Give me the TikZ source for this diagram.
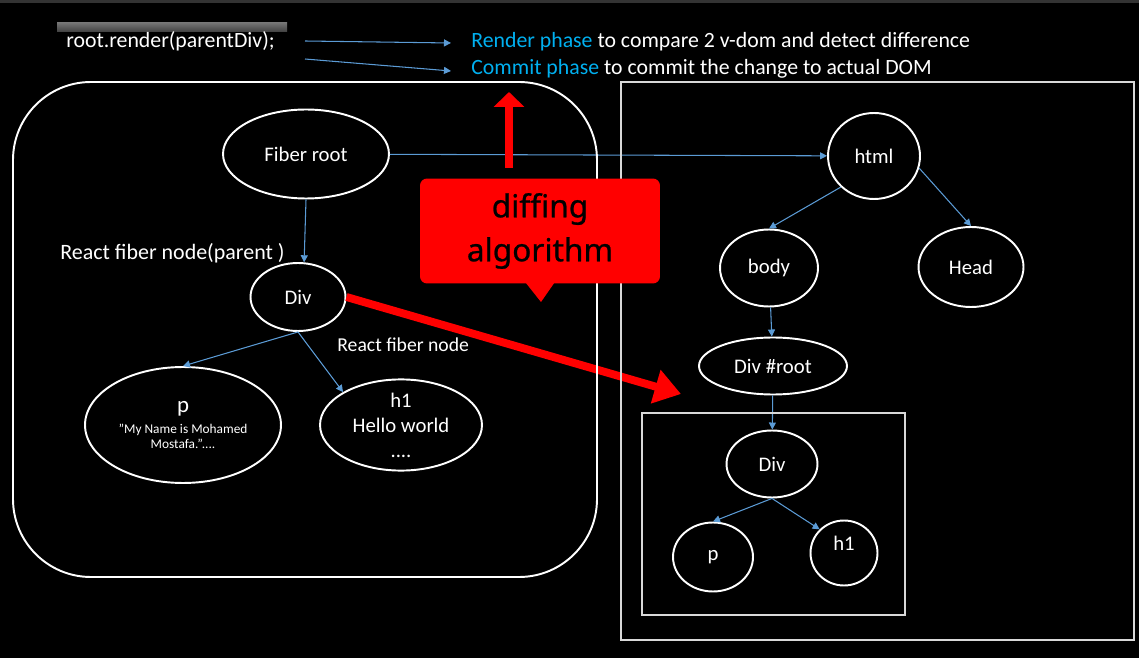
\documentclass[tikz,border=0pt]{standalone}
\usepackage{fontspec}
\setmainfont{Carlito}
\newfontfamily\calloutfont[FakeBold=0.7]{Noto Sans}
\usetikzlibrary{arrows.meta, shapes.geometric, calc}
\definecolor{linkblue}{RGB}{91,155,213}
\definecolor{phaseblue}{RGB}{0,176,240}
\definecolor{boxgray}{RGB}{217,217,217}

\tikzset{
  tnode/.style={ellipse, draw=white, line width=1.1pt, text=white, inner sep=0pt, align=center, font=\fontsize{11.8}{14.2}\selectfont},
  link/.style={linkblue, line width=0.6pt, -{Triangle[length=4pt,width=4pt]}},
  bigred/.style={red, line width=4.5pt, -{Triangle[length=15pt,width=19pt]}},
  lbl/.style={text=white, inner sep=0pt, font=\fontsize{11.8}{14.2}\selectfont},
}

\begin{document}
\begin{tikzpicture}[x=0.02cm, y=-0.02cm]
    \useasboundingbox (0,0) rectangle (1139,658);
    \fill[black] (0,0) rectangle (1139,658);
    \fill[black!80] (0,0) rectangle (1139,3);
    \shade[top color=black!55, bottom color=black!75] (57,23) rectangle (287,32);

    % header
    \node[lbl, anchor=base west, font=\fontsize{12.4}{15}\selectfont] (call) at (66,48) {root.render(parentDiv);};
    \node[lbl, anchor=base west, font=\fontsize{12.4}{15}\selectfont] (render) at (471,48) {\textcolor{phaseblue}{Render phase} to compare 2 v-dom and detect difference};
    \node[lbl, anchor=base west, font=\fontsize{12.4}{15}\selectfont] (commit) at (471,75) {\textcolor{phaseblue}{Commit phase} to commit the change to actual DOM};
    \coordinate (ra) at (305,41);
    \coordinate (rb) at (451,43);
    \coordinate (ca) at (305,59);
    \coordinate (cb) at (451,71);
    \draw[link] (ra) -- (rb);
    \draw[link] (ca) -- (cb);

    % fiber tree
    \node[tnode, minimum width=3.32cm, minimum height=1.78cm] (fiberroot) at (306,154) {Fiber root};
    \node[tnode, minimum width=1.9cm, minimum height=1.36cm] (div) at (298,297) {Div};
    \node[tnode, minimum width=3.92cm, minimum height=2.32cm, font=\fontsize{7.6}{8.6}\selectfont] (p) at (183,425)
        {{\fontsize{13}{15}\selectfont p}\\[3pt]"My Name is Mohamed\\Mostafa."....};
    \node[tnode, minimum width=3.24cm, minimum height=1.68cm] (h1) at (401,425) {h1\\Hello world\\....};
    \node[lbl, anchor=base west, font=\fontsize{12.5}{15}\selectfont] (parentlbl) at (60,260) {React fiber node(parent )};
    \node[lbl, anchor=base west, font=\fontsize{11.2}{14}\selectfont] (fiberlbl) at (337,352) {React fiber node};

    % real DOM tree
    \node[tnode, minimum width=1.84cm, minimum height=1.72cm] (html) at (874,156) {html};
    \node[tnode, minimum width=1.96cm, minimum height=1.54cm] (body) at (769,268) {body};
    \node[tnode, minimum width=2.1cm, minimum height=1.6cm] (head) at (971,267) {Head};
    \node[tnode, minimum width=2.96cm, minimum height=1.14cm] (divroot) at (773,366) {Div \#root};
    \node[tnode, minimum width=1.82cm, minimum height=1.34cm] (idiv) at (772,464) {Div};
    \node[tnode, minimum width=1.6cm, minimum height=1.38cm] (ip) at (713,557) {p};
    \node[tnode, minimum width=1.34cm, minimum height=1.3cm, text depth=0.4cm] (ih1) at (844,553) {h1};

    \foreach \a/\b in {fiberroot/html, fiberroot.south/div.80, div.south/p.north, div.south/h1.north west,
                       html.south west/body.north, html.-15/head.north, body/divroot, divroot/idiv,
                       idiv.south/ip.north, idiv.south/ih1.north west}
        \draw[link] (\a) -- (\b);

    \coordinate (diffend) at (681,394);
    \draw[bigred] (div.east) -- (diffend);

    % frames
    \draw[white, line width=1.1pt, rounded corners=1.56cm] (13,82) rectangle (597,577);
    \draw[boxgray, line width=1.1pt] (621,82) rectangle (1134,640);
    \draw[boxgray, line width=1.1pt] (642,413) rectangle (905,615);

    % callout
    \node[fill=red, rounded corners=4pt, minimum width=4.8cm, minimum height=2.1cm, align=center,
          text=black, font=\calloutfont\fontsize{18}{25}\selectfont] (callout) at (540,231) {diffing\\algorithm};
    \fill[red] ($(callout.south)+(-15,-2)$) -- (541,302) -- ($(callout.south)+(15,-2)$) -- cycle;
    \coordinate (upa) at (509,168);
    \coordinate (upb) at (509,92);
    \draw[red, line width=4.3pt, -{Triangle[length=8.5pt,width=17pt]}] (upa) -- (upb);
\end{tikzpicture}
\end{document}
